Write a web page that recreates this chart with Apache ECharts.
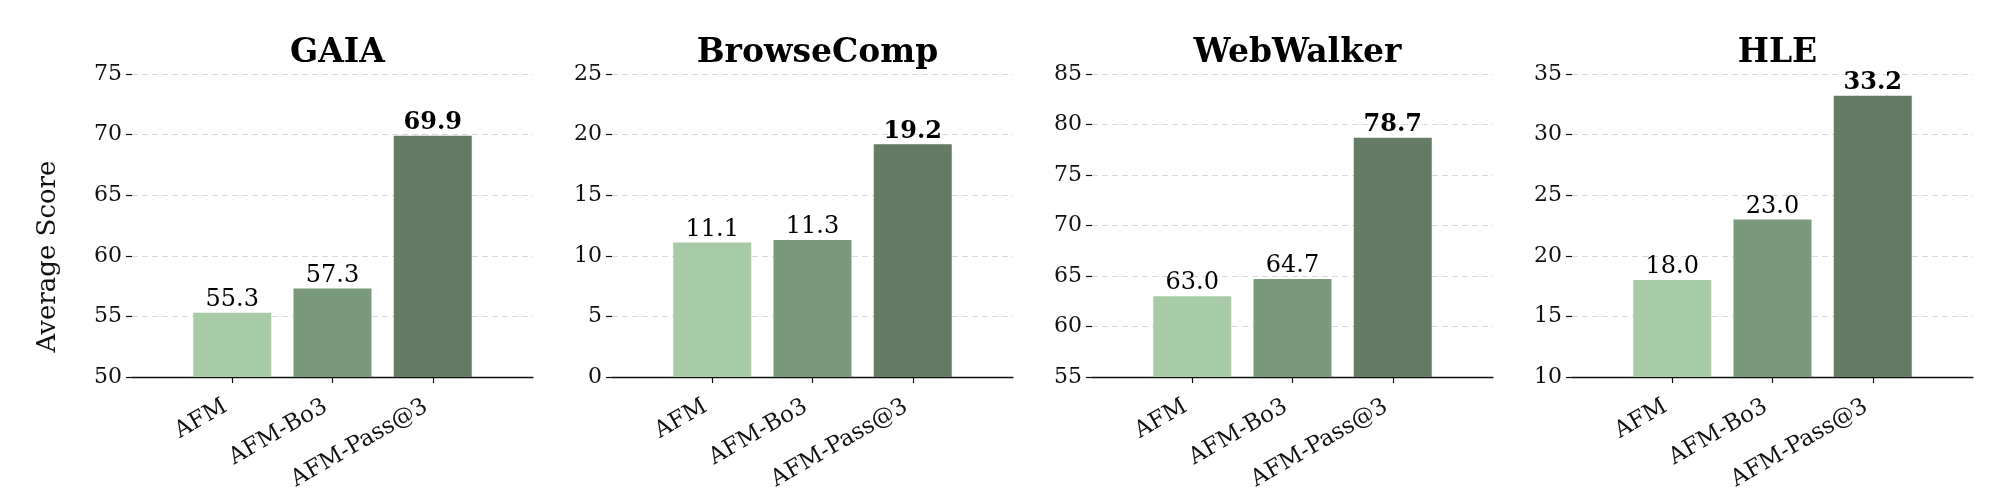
<!DOCTYPE html>
<html>
<head>
<meta charset="utf-8">
<script src="https://cdn.jsdelivr.net/npm/echarts@6/dist/echarts.min.js"></script>
<style>
html,body{margin:0;padding:0;background:#fff;}
#c{width:2000px;height:496px;}
</style>
</head>
<body>
<div id="c"></div>
<script>
const categories = ['AFM', 'AFM-Bo3', 'AFM-Pass@3'];
const panelTitles = ['GAIA', 'BrowseComp', 'WebWalker', 'HLE'];
const gaiaValues = [55.3, 57.3, 69.9];
const browseCompValues = [11.1, 11.3, 19.2];
const webWalkerValues = [63.0, 64.7, 78.7];
const hleValues = [18.0, 23.0, 33.2];
const yMins = [50, 0, 55, 10];
const yMaxs = [75, 25, 85, 35];
const yInterval = 5;
const barColors = ['#a7cba5', '#7b997b', '#647c63'];

const panelValues = [gaiaValues, browseCompValues, webWalkerValues, hleValues];
const FONT = 'DejaVu Serif';
const gridLefts = [132, 612, 1092, 1572];
const gridWidth = 401;
const gridTop = 74;
const gridHeight = 303;

const axisCats = [''].concat(categories, ['']);
const option = {
  animation: false,
  backgroundColor: '#ffffff',
  title: [], grid: [], xAxis: [], yAxis: [], series: []
};

panelValues.forEach((vals, p) => {
  const maxV = Math.max.apply(null, vals);
  option.title.push({
    text: panelTitles[p],
    left: gridLefts[p] + gridWidth / 2,
    top: 32,
    textAlign: 'center',
    textStyle: { fontFamily: FONT, fontSize: 33, fontWeight: 'bold', color: '#000' }
  });
  option.grid.push({ left: gridLefts[p], top: gridTop, width: gridWidth, height: gridHeight, containLabel: false });
  option.xAxis.push({
    type: 'category', gridIndex: p, data: axisCats, boundaryGap: false,
    axisLine: { show: true, lineStyle: { color: '#111', width: 1.3 } },
    axisTick: { show: true, length: 6, interval: (i) => i > 0 && i < 4, lineStyle: { color: '#111', width: 1.2 } },
    axisLabel: { interval: (i) => i > 0 && i < 4, rotate: 30, margin: 24, padding: [0, 8, 0, 0], fontFamily: FONT, fontSize: 23, color: '#111' },
    splitLine: { show: false }
  });
  option.yAxis.push({
    type: 'value', gridIndex: p, min: yMins[p], max: yMaxs[p], interval: yInterval,
    name: p === 0 ? 'Average Score' : '',
    nameLocation: 'middle', nameRotate: 90, nameGap: 71,
    nameTextStyle: { fontFamily: FONT, fontSize: 26, color: '#111', padding: [0, 62, 0, 0] },
    axisLine: { show: false },
    axisTick: { show: true, length: 6, lineStyle: { color: '#111', width: 1.2 } },
    axisLabel: { margin: 10, fontFamily: FONT, fontSize: 22, color: '#111' },
    splitLine: { show: true, lineStyle: { type: [6, 4], color: '#d8d8d8', width: 1 } }
  });
  option.series.push({
    type: 'bar', xAxisIndex: p, yAxisIndex: p, barWidth: 78,
    data: ['-'].concat(vals.map((v, i) => ({
      value: v,
      itemStyle: { color: barColors[i] },
      label: {
        show: true, position: 'top', distance: 1,
        formatter: (d) => Number(d.value).toFixed(1),
        fontFamily: FONT, fontSize: 24,
        fontWeight: v === maxV ? 'bold' : 'normal', color: '#000'
      }
    })), ['-'])
  });
});

const chart = echarts.init(document.getElementById('c'), null, { renderer: 'canvas' });
chart.setOption(option);
</script>
</body>
</html>
